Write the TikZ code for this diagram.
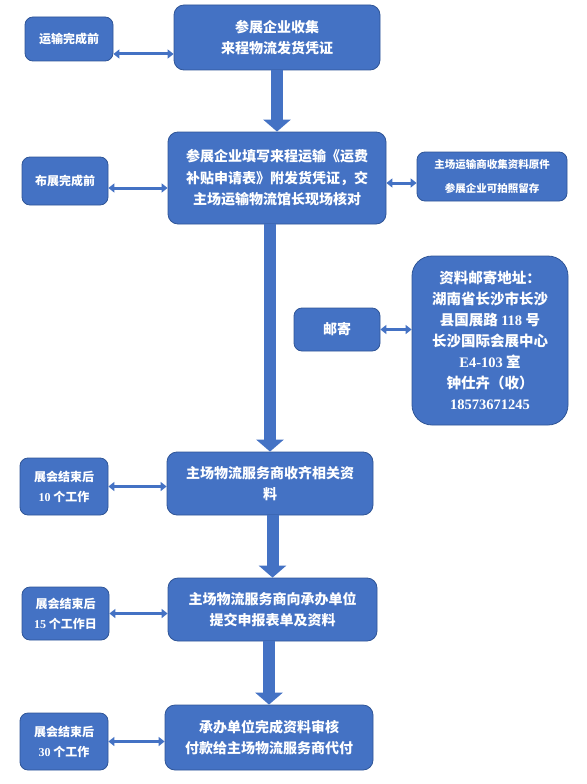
\documentclass[tikz,border=0pt]{standalone}
\usepackage{fontspec}
\setmainfont{Noto Sans CJK SC}
\newfontfamily\numfont{Liberation Serif}
\usetikzlibrary{arrows.meta, calc}
\definecolor{boxblue}{HTML}{4472C4}
\definecolor{boxedge}{HTML}{2F5597}
\tikzset{
    mainbox/.style={rectangle, rounded corners=10pt, draw=boxedge, fill=boxblue, line width=0.8pt, text=white, align=center, inner sep=2pt, font=\fontsize{14}{21.5}\selectfont\bfseries},
    sidebox/.style={mainbox, rounded corners=8pt, font=\fontsize{12}{20}\selectfont\bfseries},
    notebox/.style={mainbox, rounded corners=8pt, font=\fontsize{10.5}{24}\selectfont\bfseries},
    addrbox/.style={mainbox, rounded corners=20pt, font=\fontsize{14.5}{21}\selectfont\bfseries},
    downarrow/.style={-{Triangle[width=27pt, length=12pt]}, line width=12pt, boxblue},
    dblarrow/.style={{Triangle[width=9pt, length=6pt]}-{Triangle[width=9pt, length=6pt]}, line width=3pt, boxblue}
}

\begin{document}
\begin{tikzpicture}[x=1pt, y=-1pt]
    \useasboundingbox (0,0) rectangle (586,784);

    % main steps
    \node[mainbox, minimum width=206pt, minimum height=65pt] (b1) at (277,37.5) {参展企业收集\\来程物流发货凭证};
    \node[mainbox, minimum width=218pt, minimum height=92pt] (b2) at (277,178) {参展企业填写来程运输《运费\\补贴申请表》附发货凭证，交\\主场运输物流馆长现场核对};
    \node[mainbox, minimum width=206pt, minimum height=63pt] (b3) at (270,483.5) {主场物流服务商收齐相关资\\料};
    \node[mainbox, minimum width=209pt, minimum height=63pt] (b4) at (272.5,609.5) {主场物流服务商向承办单位\\提交申报表单及资料};
    \node[mainbox, minimum width=208pt, minimum height=65pt] (b5) at (269,737.5) {承办单位完成资料审核\\付款给主场物流服务商代付};

    % time limits
    \node[sidebox, minimum width=88pt, minimum height=44pt] (l1) at (69,39) {运输完成前};
    \node[sidebox, minimum width=86pt, minimum height=48pt] (l2) at (65,181) {布展完成前};
    \node[sidebox, minimum width=88pt, minimum height=57pt] (l3) at (64,486.5) {展会结束后\\{\numfont 10} 个工作};
    \node[sidebox, minimum width=87pt, minimum height=53pt] (l4) at (65.5,613.5) {展会结束后\\{\numfont 15} 个工作日};
    \node[sidebox, minimum width=88pt, minimum height=57pt] (l5) at (64,741.5) {展会结束后\\{\numfont 30} 个工作};

    % notes on the right
    \node[notebox, minimum width=150pt, minimum height=49pt] (r2) at (492,176.5) {主场运输商收集资料原件\\参展企业可拍照留存};
    \node[mainbox, rounded corners=8pt, minimum width=86pt, minimum height=43pt] (mail) at (337,329.5) {邮寄};
    \node[addrbox, minimum width=156pt, minimum height=169pt] (addr) at (490,340.5) {资料邮寄地址：\\湖南省长沙市长沙\\县国展路 {\numfont 118} 号\\长沙国际会展中心\\{\numfont E4-103} 室\\钟仕卉（收）\\{\numfont 18573671245}};

    \draw[downarrow] (b2.north |- b1.south) -- (b2.north);
    \draw[downarrow] (b3.north |- b2.south) -- (b3.north);
    \draw[downarrow] (b4.north |- b3.south) -- (b4.north);
    \draw[downarrow] (b5.north |- b4.south) -- (b5.north);

    \draw[dblarrow] ([yshift=-15pt]l1.east) -- ([yshift=-15pt]l1.east -| b1.west);
    \draw[dblarrow] ([yshift=-7pt]l2.east) -- ([yshift=-7pt]l2.east -| b2.west);
    \draw[dblarrow] ([yshift=-6.5pt]r2.west -| b2.east) -- ([yshift=-6.5pt]r2.west);
    \draw[dblarrow] (mail.east) -- (mail.east -| addr.west);
    \draw[dblarrow] (l3.east) -- (l3.east -| b3.west);
    \draw[dblarrow] (l4.east) -- (l4.east -| b4.west);
    \draw[dblarrow] (l5.east) -- (l5.east -| b5.west);
\end{tikzpicture}
\end{document}
